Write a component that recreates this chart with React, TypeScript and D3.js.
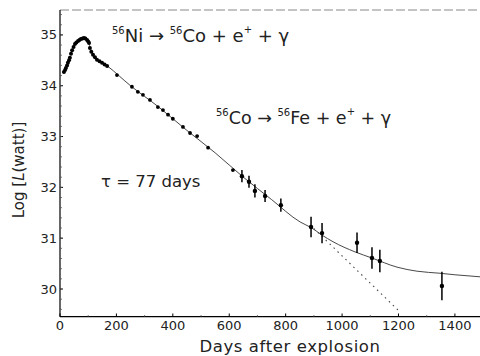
import React from 'react';
import * as d3 from 'd3';

// light curve (day, log L)
const curveDays = [14, 18, 21, 25, 28, 32, 35, 39, 43, 48, 53, 58, 64, 69, 74, 80, 85, 90, 96, 100, 103, 106, 111, 117, 124, 131, 140, 149, 158, 167];
const curveLogL = [34.27, 34.31, 34.35, 34.4, 34.45, 34.5, 34.55, 34.63, 34.7, 34.76, 34.82, 34.85, 34.88, 34.9, 34.92, 34.93, 34.94, 34.93, 34.9, 34.87, 34.84, 34.74, 34.67, 34.61, 34.56, 34.51, 34.48, 34.45, 34.42, 34.39];

const tailDays = [202, 255, 276, 294, 319, 347, 365, 383, 400, 436, 461, 486, 525, 613];
const tailLogL = [34.21, 33.98, 33.88, 33.82, 33.72, 33.58, 33.52, 33.43, 33.35, 33.19, 33.07, 33.01, 32.78, 32.34];

// late points with error bars
const lateDays = [645, 670, 691, 727, 783, 890, 929, 1053, 1106, 1134, 1354];
const lateLogL = [32.22, 32.11, 31.93, 31.83, 31.65, 31.22, 31.1, 30.91, 30.61, 30.55, 30.06];
const lateErr = [0.12, 0.12, 0.13, 0.12, 0.13, 0.2, 0.2, 0.2, 0.21, 0.22, 0.28];

// model (solid) and pure 56Co decay extrapolation (dotted)
const modelDays = [100, 120, 170, 250, 350, 450, 550, 650, 750, 851, 893, 929, 968, 1046, 1106, 1195, 1266, 1347, 1400, 1489];
const modelLogL = [34.88, 34.58, 34.38, 34.0, 33.58, 33.12, 32.68, 32.2, 31.76, 31.32, 31.2, 31.06, 30.93, 30.73, 30.61, 30.43, 30.35, 30.31, 30.28, 30.24];
const decayDays = [900, 1205];
const decayLogL = [31.19, 29.55];

const xTicks = [0, 200, 400, 600, 800, 1000, 1200, 1400];
const yTicks = [30, 31, 32, 33, 34, 35];

const W = 480;
const H = 356;
const font = 'DejaVu Sans';

export default function App() {
  const x = d3.scaleLinear().domain([0, 1489]).range([60, 480]);
  const y = d3.scaleLinear().domain([29.455, 35.49]).range([316.7, 10]);

  const line = d3.line<[number, number]>().x(d => x(d[0])).y(d => y(d[1])).curve(d3.curveMonotoneX);
  const model = line(modelDays.map((d, i) => [d, modelLogL[i]]));
  const decay = line(decayDays.map((d, i) => [d, decayLogL[i]]));

  const minorY = d3.range(29.6, 35.5, 0.2);
  const minorX = d3.range(100, 1489, 200);

  return (
    <svg width={W} height={H} style={{ position: 'absolute', left: 0, top: 0, background: '#fff' }} fontFamily={font}>
      <rect width={W} height={H} fill="#fff" />
      {/* frame */}
      <line x1={60} x2={480} y1={10} y2={10} stroke="#888" strokeDasharray="9,3" />
      <line x1={60} x2={60} y1={10} y2={316.7} stroke="#000" strokeWidth={1.2} />
      <line x1={60} x2={480} y1={316.7} y2={316.7} stroke="#000" strokeWidth={1.2} />

      {yTicks.map(t => (
        <g key={'y' + t}>
          <line x1={60} x2={63} y1={y(t)} y2={y(t)} stroke="#000" />
          <text x={57} y={y(t) + 4.5} fontSize={13} textAnchor="end" fill="#222">{t}</text>
        </g>
      ))}
      {minorY.map(t => (
        <line key={'my' + t} x1={60} x2={62} y1={y(t)} y2={y(t)} stroke="#555" strokeWidth={0.8} />
      ))}
      {xTicks.map(t => (
        <g key={'x' + t}>
          <line x1={x(t)} x2={x(t)} y1={316.7} y2={313.5} stroke="#000" />
          <text x={x(t)} y={330} fontSize={13} textAnchor="middle" fill="#222">{t}</text>
        </g>
      ))}
      {minorX.map(t => (
        <line key={'mx' + t} x1={x(t)} x2={x(t)} y1={316.7} y2={315} stroke="#555" strokeWidth={0.8} />
      ))}

      <text x={290} y={352} fontSize={16.5} letterSpacing={0.6} textAnchor="middle" fill="#222">Days after explosion</text>
      <text transform="translate(24,170) rotate(-90)" fontSize={15} textAnchor="middle" fill="#222">
        Log [<tspan fontStyle="italic">L</tspan>(watt)]
      </text>

      {/* lines */}
      <path d={model ?? ''} fill="none" stroke="#333" strokeWidth={0.9} />
      <path d={decay ?? ''} fill="none" stroke="#444" strokeWidth={1.1} strokeDasharray="1.5,4" />

      {/* points */}
      {curveDays.map((d, i) => (
        <circle key={'c' + i} cx={x(d)} cy={y(curveLogL[i])} r={2} fill="#000" />
      ))}
      {tailDays.map((d, i) => (
        <circle key={'t' + i} cx={x(d)} cy={y(tailLogL[i])} r={1.9} fill="#000" />
      ))}
      {lateDays.map((d, i) => (
        <g key={'l' + i}>
          <line x1={x(d)} x2={x(d)} y1={y(lateLogL[i] - lateErr[i])} y2={y(lateLogL[i] + lateErr[i])} stroke="#000" strokeWidth={1.5} />
          <circle cx={x(d)} cy={y(lateLogL[i])} r={2.2} fill="#000" />
        </g>
      ))}

      {/* annotations */}
      <text x={112} y={42} fontSize={18} fill="#222">
        <tspan fontSize={10} dy={-8}>56</tspan>
        <tspan dy={8}>Ni → </tspan>
        <tspan fontSize={10} dy={-8}>56</tspan>
        <tspan dy={8}>Co + e</tspan>
        <tspan fontSize={10} dy={-9}>+</tspan>
        <tspan dy={9}> + γ</tspan>
      </text>
      <text x={216} y={124} fontSize={17.5} fill="#222">
        <tspan fontSize={10} dy={-8}>56</tspan>
        <tspan dy={8}>Co → </tspan>
        <tspan fontSize={10} dy={-8}>56</tspan>
        <tspan dy={8}>Fe + e</tspan>
        <tspan fontSize={10} dy={-9}>+</tspan>
        <tspan dy={9}> + γ</tspan>
      </text>
      <text x={101} y={187} fontSize={16.5} fill="#222">τ = 77 days</text>
    </svg>
  );
}
